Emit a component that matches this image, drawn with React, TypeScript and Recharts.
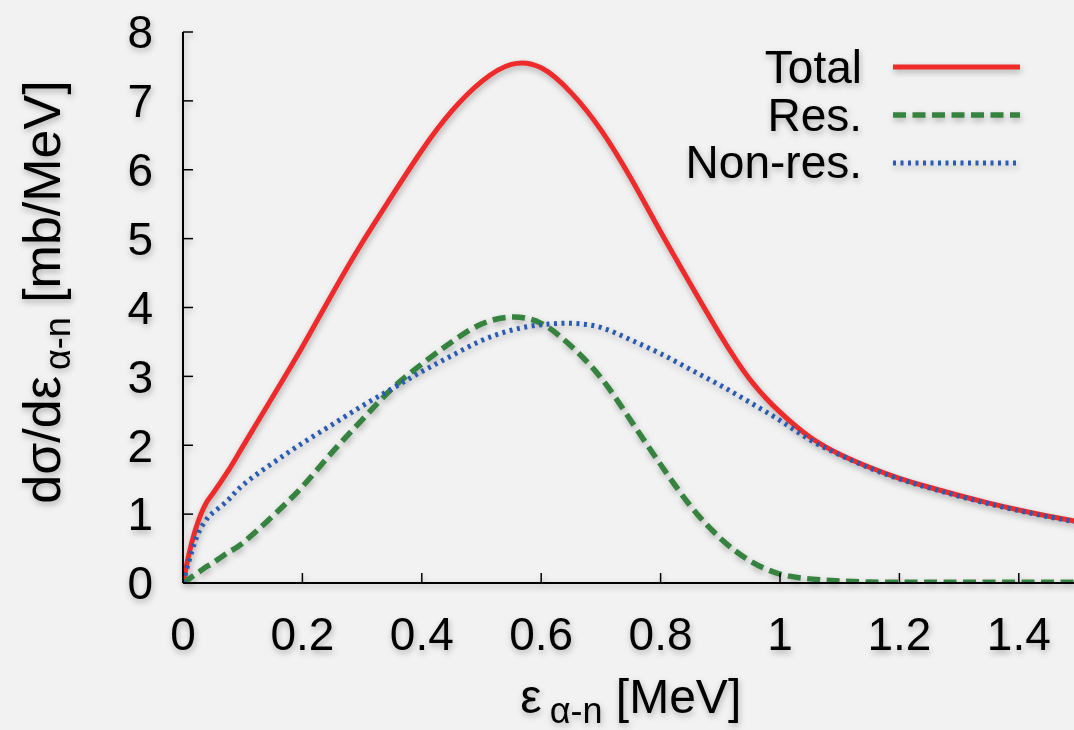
import { LineChart, Line, XAxis, YAxis, Label } from "recharts";

// energy grid [MeV]
const energies = [
  0, 0.01, 0.02, 0.03, 0.04, 0.05, 0.075, 0.1, 0.15, 0.2, 0.25, 0.3, 0.35, 0.4,
  0.45, 0.5, 0.55, 0.6, 0.65, 0.7, 0.75, 0.8, 0.85, 0.9, 0.95, 1.0, 1.05, 1.1,
  1.15, 1.2, 1.25, 1.3, 1.35, 1.4, 1.45, 1.5,
];

// dσ/dε [mb/MeV]
const totalXs = [
  0, 0.42, 0.75, 1.0, 1.18, 1.3, 1.62, 1.98, 2.7, 3.43, 4.2, 4.94, 5.62, 6.28,
  6.85, 7.28, 7.53, 7.48, 7.12, 6.58, 5.88, 5.1, 4.34, 3.6, 2.95, 2.48, 2.12,
  1.87, 1.68, 1.52, 1.39, 1.27, 1.16, 1.06, 0.97, 0.89,
];
const resXs = [
  0, 0.06, 0.12, 0.18, 0.24, 0.29, 0.44, 0.58, 0.97, 1.4, 1.9, 2.37, 2.82, 3.18,
  3.5, 3.76, 3.86, 3.77, 3.44, 2.98, 2.36, 1.72, 1.12, 0.65, 0.32, 0.13, 0.06,
  0.03, 0.015, 0.01, 0.01, 0.01, 0.01, 0.01, 0.01, 0.01,
];
const nonResXs = [
  0, 0.32, 0.6, 0.8, 0.93, 1.02, 1.2, 1.42, 1.74, 2.03, 2.3, 2.57, 2.82, 3.07,
  3.3, 3.52, 3.67, 3.75, 3.77, 3.71, 3.53, 3.33, 3.1, 2.87, 2.62, 2.36, 2.08,
  1.86, 1.67, 1.51, 1.38, 1.26, 1.15, 1.05, 0.96, 0.88,
];

const xTicks = [0, 0.2, 0.4, 0.6, 0.8, 1, 1.2, 1.4];
const yTicks = [0, 1, 2, 3, 4, 5, 6, 7, 8];

const series = [
  { key: "total", name: "Total", color: "#ee2a2a", width: 5, dash: undefined },
  { key: "res", name: "Res.", color: "#36833f", width: 5.5, dash: "13 6.5" },
  { key: "nonres", name: "Non-res.", color: "#2a5bb3", width: 5, dash: "3 4.5" },
];

const data = energies.map((e, i) => ({
  e,
  total: totalXs[i],
  res: resXs[i],
  nonres: nonResXs[i],
}));

const FONT = '"Liberation Sans", Arial, Helvetica, sans-serif';
const tickStyle = { fill: "#000", fontSize: 46, fontFamily: FONT };

const YTitle = ({ viewBox }: any) => {
  const cx = viewBox.x + 60;
  const cy = 292;
  return (
    <text
      transform={`translate(${cx},${cy}) rotate(-90)`}
      textAnchor="middle"
      fontFamily={FONT}
      fontSize={52}
      fill="#000"
    >
      dσ/dε
      <tspan fontSize={36} dx={6} dy={10}>α-n</tspan>
      <tspan dy={-10}> [mb/MeV]</tspan>
    </text>
  );
};

const XTitle = ({ viewBox }: any) => {
  const cx = viewBox.x + viewBox.width / 2;
  return (
    <text x={cx} y={713} textAnchor="middle" fontFamily={FONT} fontSize={48} fill="#000">
      ε
      <tspan fontSize={36} dx={8} dy={10}>α-n</tspan>
      <tspan dy={-10}> [MeV]</tspan>
    </text>
  );
};

const ChartLegend = () => (
  <svg
    width={1074}
    height={200}
    style={{ position: "absolute", left: 0, top: 0, pointerEvents: "none" }}
  >
    {series.map((s, i) => (
      <g key={s.key}>
        <text
          x={862}
          y={83 + i * 47.5}
          textAnchor="end"
          fontFamily={FONT}
          fontSize={46}
          fill="#000"
        >
          {s.name}
        </text>
        <line
          x1={893}
          x2={1020}
          y1={67 + i * 48}
          y2={67 + i * 48}
          stroke={s.color}
          strokeWidth={s.width}
          strokeDasharray={s.dash}
        />
      </g>
    ))}
  </svg>
);

export default function App() {
  return (
    <div
      style={{
        position: "absolute",
        left: 0,
        top: 0,
        width: 1074,
        height: 730,
        overflow: "hidden",
        background: "#f2f2f2",
      }}
    >
      <div
        style={{
          position: "absolute",
          left: 0,
          top: 0,
          width: 1074,
          height: 730,
          filter: "drop-shadow(1px 3px 3px rgba(0,0,0,0.28))",
        }}
      >
        <LineChart
          width={1090}
          height={730}
          data={data}
          margin={{ top: 32, right: 11.5, bottom: 0, left: 0 }}
        >
          <XAxis
            xAxisId="b"
            dataKey="e"
            type="number"
            domain={[0, 1.5]}
            ticks={xTicks}
            interval={0}
            allowDataOverflow
            height={147}
            tickSize={-10}
            tickMargin={44}
            tick={tickStyle}
            axisLine={{ stroke: "#000", strokeWidth: 2 }}
            tickLine={{ stroke: "#000", strokeWidth: 1.5 }}
          >
            <Label content={XTitle} />
          </XAxis>
          <XAxis
            xAxisId="t"
            orientation="top"
            dataKey="e"
            type="number"
            domain={[0, 1.5]}
            ticks={xTicks}
            interval={0}
            allowDataOverflow
            height={0}
            tickSize={-10}
            tick={false}
            axisLine={{ stroke: "#000", strokeWidth: 2 }}
            tickLine={{ stroke: "#000", strokeWidth: 1.5 }}
          />
          <YAxis
            yAxisId="l"
            type="number"
            domain={[0, 8]}
            ticks={yTicks}
            interval={0}
            allowDataOverflow
            width={183}
            tickSize={-10}
            tickMargin={40}
            tick={tickStyle}
            axisLine={{ stroke: "#000", strokeWidth: 2 }}
            tickLine={{ stroke: "#000", strokeWidth: 1.5 }}
          >
            <Label content={YTitle} />
          </YAxis>
          <YAxis
            yAxisId="r"
            orientation="right"
            type="number"
            domain={[0, 8]}
            ticks={yTicks}
            interval={0}
            allowDataOverflow
            width={0}
            tickSize={-10}
            tick={false}
            axisLine={{ stroke: "#000", strokeWidth: 2 }}
            tickLine={{ stroke: "#000", strokeWidth: 1.5 }}
          />
          {series.map((s) => (
            <Line
              key={s.key}
              xAxisId="b"
              yAxisId="l"
              type="natural"
              dataKey={s.key}
              name={s.name}
              stroke={s.color}
              strokeWidth={s.width}
              strokeDasharray={s.dash}
              dot={false}
              activeDot={false}
              isAnimationActive={false}
            />
          ))}
        </LineChart>
        <ChartLegend />
      </div>
    </div>
  );
}
